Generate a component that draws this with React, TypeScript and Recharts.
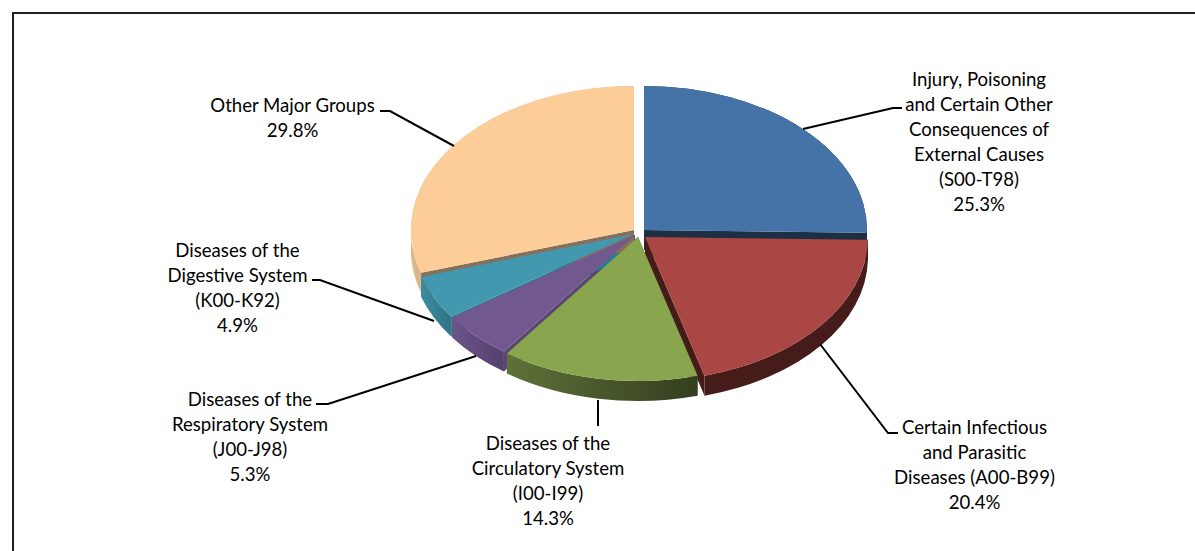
import { PieChart, Pie } from 'recharts'

const categories = [
  'Injury, Poisoning and Certain Other Consequences of External Causes (S00-T98)',
  'Certain Infectious and Parasitic Diseases (A00-B99)',
  'Diseases of the Circulatory System (I00-I99)',
  'Diseases of the Respiratory System (J00-J98)',
  'Diseases of the Digestive System (K00-K92)',
  'Other Major Groups',
]
const shares = [25.3, 20.4, 14.3, 5.3, 4.9, 29.8]
const labelLines = [
  ['Injury, Poisoning', 'and Certain Other', 'Consequences of', 'External Causes', '(S00-T98)'],
  ['Certain Infectious', 'and Parasitic', 'Diseases (A00-B99)'],
  ['Diseases of the', 'Circulatory System', '(I00-I99)'],
  ['Diseases of the', 'Respiratory System', '(J00-J98)'],
  ['Diseases of the', 'Digestive System', '(K00-K92)'],
  ['Other Major Groups'],
]

const data = categories.map((name, i) => ({ name, value: shares[i], index: i }))

const WIDTH = 1195
const HEIGHT = 551
const CX = 634
const CY = 234
const RX = 223
const TILT = 144 / 223
const DEPTH = 20

// per slice look: top colour, wall gradient, cut face, explode offset
const looks = [
  { top: '#4573a7', wallL: '#1b2f45', wallR: '#1b2f45', cut: '#1b2f45', dx: 10, dy: -4 },
  { top: '#aa4643', wallL: '#451c1a', wallR: '#451c1a', cut: '#451c1a', dx: 11, dy: 3 },
  { top: '#89a54e', wallL: '#5f7138', wallR: '#333e1f', cut: '#4a5a2b', dx: 4, dy: 3 },
  { top: '#71588f', wallL: '#6b5488', wallR: '#54406e', cut: '#5a4672', dx: 1, dy: 1 },
  { top: '#4198af', wallL: '#3d8ba0', wallR: '#2f7485', cut: '#2f7c8e', dx: 0, dy: 0 },
  { top: '#fdcd99', wallL: '#dcb688', wallR: '#e6be8e', cut: '#85705a', dx: 0, dy: -4 },
]

// where each label block and its leader line sit
const labelLayout = [
  { x: 979, y: 78.5, leader: '803,129 893,108 902,108' },
  { x: 974.5, y: 426.5, leader: '820,344 888,433 898,433' },
  { x: 548, y: 442.5, leader: '598,400 598,426' },
  { x: 250, y: 398.5, leader: '476,356 328,404 316,404' },
  { x: 237.5, y: 249.5, leader: '434,321 320,280 312,280' },
  { x: 292.5, y: 104.5, leader: '380,111 390,111 454,146' },
]
const LINE_STEP = 25

function point(cx: number, cy: number, r: number, deg: number) {
  const rad = (deg * Math.PI) / 180
  return [cx + r * Math.cos(rad), cy - r * TILT * Math.sin(rad)]
}

function sliceGeometry(props: any) {
  const { cx, cy, outerRadius: r, startAngle, endAngle, payload } = props
  const i = payload?.index ?? props.index
  const look = looks[i]
  const ox = cx + look.dx
  const oy = cy + look.dy
  const [ax, ay] = point(ox, oy, r, startAngle)
  const [bx, by] = point(ox, oy, r, endAngle)
  const large = Math.abs(endAngle - startAngle) > 180 ? 1 : 0
  return { i, look, r, ox, oy, ax, ay, bx, by, large }
}

function CutShape(props: any) {
  const { look, ox, oy, ax, ay, bx, by } = sliceGeometry(props)
  return (
    <g>
      <path d={`M${ox},${oy} L${ax},${ay} L${ax},${ay + DEPTH} L${ox},${oy + DEPTH} Z`} fill={look.cut} />
      <path d={`M${ox},${oy} L${bx},${by} L${bx},${by + DEPTH} L${ox},${oy + DEPTH} Z`} fill={look.cut} />
    </g>
  )
}

function WallShape(props: any) {
  const { i, look, r, ax, ay, bx, by, large } = sliceGeometry(props)
  const id = `wall-${i}`
  return (
    <g>
      <defs>
        <linearGradient id={id} x1="0" y1="0" x2="1" y2="0">
          <stop offset="0%" stopColor={look.wallL} />
          <stop offset="100%" stopColor={look.wallR} />
        </linearGradient>
      </defs>
      <path
        d={`M${ax},${ay} A${r},${r * TILT} 0 ${large} 1 ${bx},${by} L${bx},${by + DEPTH} A${r},${r * TILT} 0 ${large} 0 ${ax},${ay + DEPTH} Z`}
        fill={`url(#${id})`}
      />
    </g>
  )
}

function TopShape(props: any) {
  const { look, r, ox, oy, ax, ay, bx, by, large } = sliceGeometry(props)
  return <path d={`M${ox},${oy} L${ax},${ay} A${r},${r * TILT} 0 ${large} 1 ${bx},${by} Z`} fill={look.top} />
}

function SliceLabel(props: any) {
  const i = props.payload?.index ?? props.index
  const place = labelLayout[i]
  const rows = [...labelLines[i], `${shares[i].toFixed(1)}%`]
  return (
    <g>
      <polyline points={place.leader} fill="none" stroke="#000" strokeWidth={2} />
      {rows.map((row, k) => (
        <text
          key={row}
          x={place.x}
          y={place.y + k * LINE_STEP}
          textAnchor="middle"
          dominantBaseline="central"
          fontFamily="Lato"
          fontSize={18.6}
          fill="#000"
        >
          {row}
        </text>
      ))}
    </g>
  )
}

const pieProps = {
  data,
  dataKey: 'value',
  nameKey: 'name',
  cx: CX,
  cy: CY,
  outerRadius: RX,
  startAngle: 90,
  endAngle: -270,
  stroke: 'none',
  labelLine: false,
  isAnimationActive: false,
}

export default function App() {
  return (
    <div style={{ position: 'absolute', left: 0, top: 0, width: WIDTH, height: HEIGHT, background: '#fff', overflow: 'hidden' }}>
      <div
        style={{
          position: 'absolute',
          left: 12,
          top: 12,
          width: WIDTH,
          height: HEIGHT,
          borderLeft: '2.5px solid #231f20',
          borderTop: '2.5px solid #231f20',
        }}
      />
      <PieChart width={WIDTH} height={HEIGHT} margin={{ top: 0, right: 0, bottom: 0, left: 0 }} style={{ position: 'absolute', left: 0, top: 0 }}>
        <Pie {...pieProps} shape={CutShape} label={false} />
        <Pie {...pieProps} shape={WallShape} label={false} />
        <Pie {...pieProps} shape={TopShape} label={SliceLabel} />
      </PieChart>
    </div>
  )
}
